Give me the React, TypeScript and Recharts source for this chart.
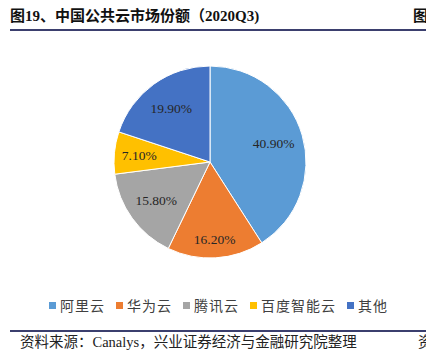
import React from 'react';
import { PieChart, Pie, Cell } from 'recharts';

const categories = ['阿里云', '华为云', '腾讯云', '百度智能云', '其他'];
const shares = [40.9, 16.2, 15.8, 7.1, 19.9];

const colors = ['#5B9BD5', '#ED7D31', '#A5A5A5', '#FFC000', '#4472C4'];
const labelRadius = [0.69, 0.81, 0.69, 0.74, 0.69];

const chartData = categories.map((name, i) => ({ name, value: shares[i] }));

const RAD = Math.PI / 180;
const serif = '"Liberation Serif", "Times New Roman", "Noto Sans CJK SC", serif';

const renderLabel = (props: any) => {
  const { cx, cy, midAngle, outerRadius, index, value } = props;
  const r = outerRadius * labelRadius[index];
  const x = cx + r * Math.cos(-midAngle * RAD);
  const y = cy + r * Math.sin(-midAngle * RAD);
  return (
    <text
      x={x}
      y={y}
      fill="#262626"
      fontSize={13.5}
      fontFamily={serif}
      textAnchor="middle"
      dominantBaseline="central"
    >
      {value.toFixed(2)}%
    </text>
  );
};

export default function App() {
  return (
    <div
      style={{
        position: 'absolute',
        left: 0,
        top: 0,
        width: 426,
        height: 357,
        background: '#fff',
        overflow: 'hidden',
        fontFamily: serif,
      }}
    >
      <div
        style={{
          position: 'absolute',
          left: 10,
          top: 7,
          fontSize: 15,
          fontWeight: 'bold',
          color: '#111',
          whiteSpace: 'nowrap',
          lineHeight: '18px',
        }}
      >
        图19、中国公共云市场份额（2020Q3)
      </div>
      <div
        style={{
          position: 'absolute',
          left: 413,
          top: 7,
          fontSize: 15,
          fontWeight: 'bold',
          color: '#111',
          lineHeight: '18px',
          whiteSpace: 'nowrap',
        }}
      >
        图
      </div>
      <div style={{ position: 'absolute', left: 10, top: 29, width: 416, height: 1.5, background: '#3B3F6E' }} />

      <div style={{ position: 'absolute', left: 0, top: 0 }}>
        <PieChart width={426} height={357} margin={{ top: 0, right: 0, bottom: 0, left: 0 }}>
          <Pie
            data={chartData}
            dataKey="value"
            nameKey="name"
            cx={210}
            cy={162}
            outerRadius={96}
            startAngle={90}
            endAngle={-270}
            stroke="#fff"
            strokeWidth={1}
            label={renderLabel}
            labelLine={false}
            isAnimationActive={false}
          >
            {chartData.map((d, i) => (
              <Cell key={d.name} fill={colors[i]} />
            ))}
          </Pie>
        </PieChart>
      </div>

      <div
        style={{
          position: 'absolute',
          left: 49,
          top: 296,
          display: 'flex',
          alignItems: 'center',
          gap: 11,
          fontSize: 14,
          lineHeight: '18px',
          color: '#404040',
          fontFamily: '"Noto Sans CJK SC", sans-serif',
          whiteSpace: 'nowrap',
        }}
      >
        {categories.map((name, i) => (
          <div key={name} style={{ display: 'flex', alignItems: 'center' }}>
            <span style={{ width: 7, height: 7, background: colors[i], marginRight: 4, display: 'inline-block' }} />
            <span style={{ letterSpacing: 1 }}>{name}</span>
          </div>
        ))}
      </div>

      <div style={{ position: 'absolute', left: 10, top: 330, width: 416, height: 1.5, background: '#3B3F6E' }} />
      <div
        style={{
          position: 'absolute',
          left: 20,
          top: 333,
          fontSize: 14.5,
          color: '#222',
          whiteSpace: 'nowrap',
          lineHeight: '18px',
        }}
      >
        资料来源：Canalys，兴业证券经济与金融研究院整理
      </div>
      <div
        style={{
          position: 'absolute',
          left: 418,
          top: 333,
          fontSize: 14.5,
          color: '#222',
          lineHeight: '18px',
        }}
      >
        资
      </div>
    </div>
  );
}
